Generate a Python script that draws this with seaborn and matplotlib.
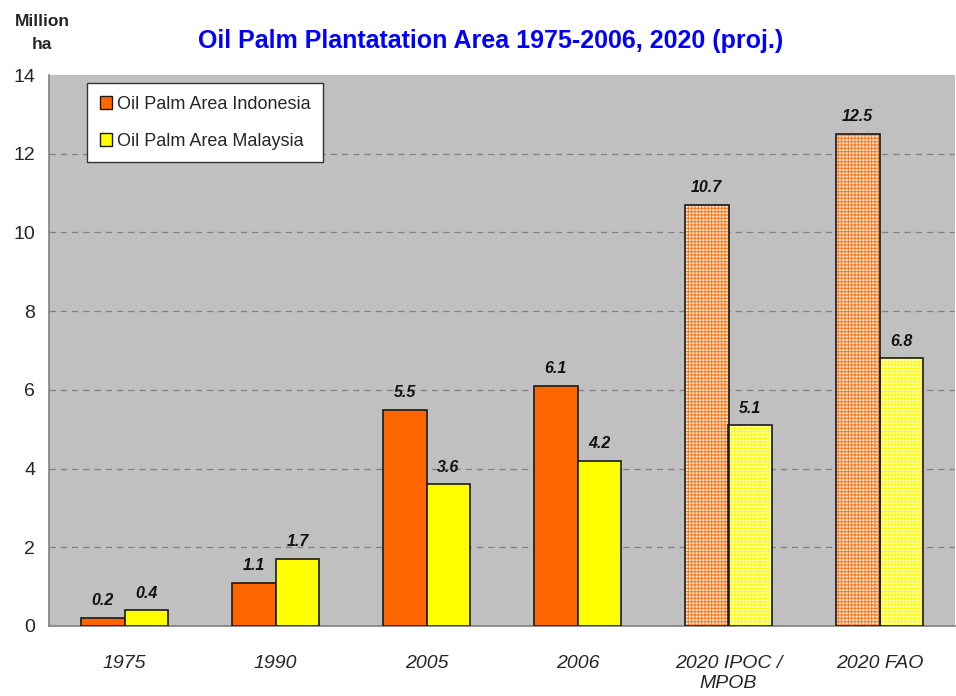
import matplotlib
matplotlib.use('Agg')
import matplotlib.pyplot as plt
from matplotlib.patches import Rectangle
import pandas as pd
import seaborn as sns

# Data
categories = ['1975', '1990', '2005', '2006', '2020 IPOC /\nMPOB', '2020 FAO']
indonesia = [0.2, 1.1, 5.5, 6.1, 10.7, 12.5]
malaysia = [0.4, 1.7, 3.6, 4.2, 5.1, 6.8]
series_names = ['Oil Palm Area Indonesia', 'Oil Palm Area Malaysia']
projected = [False, False, False, False, True, True]

ORANGE = '#FF6600'
YELLOW = '#FFFF00'

sns.set_style('white')
plt.rcParams['font.family'] = ['Liberation Sans', 'DejaVu Sans']
plt.rcParams['hatch.linewidth'] = 0.8

df = pd.DataFrame({
    'cat': categories * 2,
    'val': indonesia + malaysia,
    'series': [series_names[0]] * 6 + [series_names[1]] * 6,
})

fig = plt.figure(figsize=(9.56, 6.96), dpi=100)
ax = fig.add_axes([49 / 956, 1 - 626 / 696, 906 / 956, 551 / 696])
ax.set_facecolor('#C0C0C0')

sns.barplot(data=df, x='cat', y='val', hue='series', palette=[ORANGE, YELLOW],
            width=0.58, saturation=1, edgecolor='#1a1a1a', linewidth=1.2,
            ax=ax, zorder=3)

# projected bars get a checkered look
bars = [p for p in ax.patches if p.get_height() > 0]
for bar in bars:
    xc = bar.get_x() + bar.get_width() / 2
    idx = int(round(xc))
    if not projected[idx]:
        continue
    left = xc < idx
    base = '#FF7A20' if left else YELLOW
    bar.set_facecolor('#FFEADA' if left else '#FFFFE0')
    bar.set_edgecolor(base)
    bar.set_linewidth(0)
    bar.set_hatch('+++++')
    ax.add_patch(Rectangle(bar.get_xy(), bar.get_width(), bar.get_height(),
                           fill=False, edgecolor='#1a1a1a', linewidth=1.2, zorder=4))

for k, cont in enumerate(ax.containers[:2]):
    vals = indonesia if k == 0 else malaysia
    ax.bar_label(cont, labels=[f'{v:.1f}' for v in vals], padding=7,
                 fontsize=11.5, fontweight='bold', fontstyle='italic', color='#111111')

ax.set_ylim(0, 14)
ax.set_xlim(-0.5, 5.5)
ax.set_yticks(range(0, 15, 2))
ax.tick_params(axis='y', labelsize=14, length=6, color='#808080', pad=4)
ax.set_xticks(range(6))
ax.set_xticklabels(categories, fontstyle='italic', fontsize=14)
ax.tick_params(axis='x', which='major', length=0, pad=21)
ax.set_xticks([0.5, 1.5, 2.5, 3.5, 4.5], minor=True)
ax.tick_params(axis='x', which='minor', length=6, color='#808080', direction='out')
for lab in ax.get_xticklabels():
    lab.set_linespacing(1.2)
ax.set_xlabel('')
ax.set_ylabel('')

for y in range(2, 14, 2):
    ax.axhline(y, color='#808080', linestyle=(0, (5, 4)), linewidth=0.9, zorder=1)

for side in ['top', 'right']:
    ax.spines[side].set_visible(False)
ax.spines['left'].set_color('#808080')
ax.spines['bottom'].set_color('#808080')
ax.spines['left'].set_linewidth(1.2)
ax.spines['bottom'].set_linewidth(1.2)

handles, labels = ax.get_legend_handles_labels()
leg = ax.legend(handles, labels, loc='upper left', bbox_to_anchor=(0.042, 0.985),
                fontsize=13, frameon=True, fancybox=False, framealpha=1,
                edgecolor='#333333', handlelength=0.7, handleheight=0.7,
                handletextpad=0.25, labelspacing=1.1, borderpad=0.7, borderaxespad=0)
leg.get_frame().set_linewidth(1.0)
for h in leg.legend_handles:
    h.set_edgecolor('#1a1a1a')
    h.set_linewidth(1.0)

fig.text(491 / 956, 1 - 41 / 696, 'Oil Palm Plantatation Area 1975-2006, 2020 (proj.)',
         color='#0000FF', fontsize=18, fontweight='bold', ha='center', va='center')
fig.text(42 / 956, 1 - 33 / 696, 'Million\nha', fontsize=12.5, fontweight='bold',
         ha='center', va='center', linespacing=1.65)

fig.savefig('out.png', dpi=100, facecolor='white')
